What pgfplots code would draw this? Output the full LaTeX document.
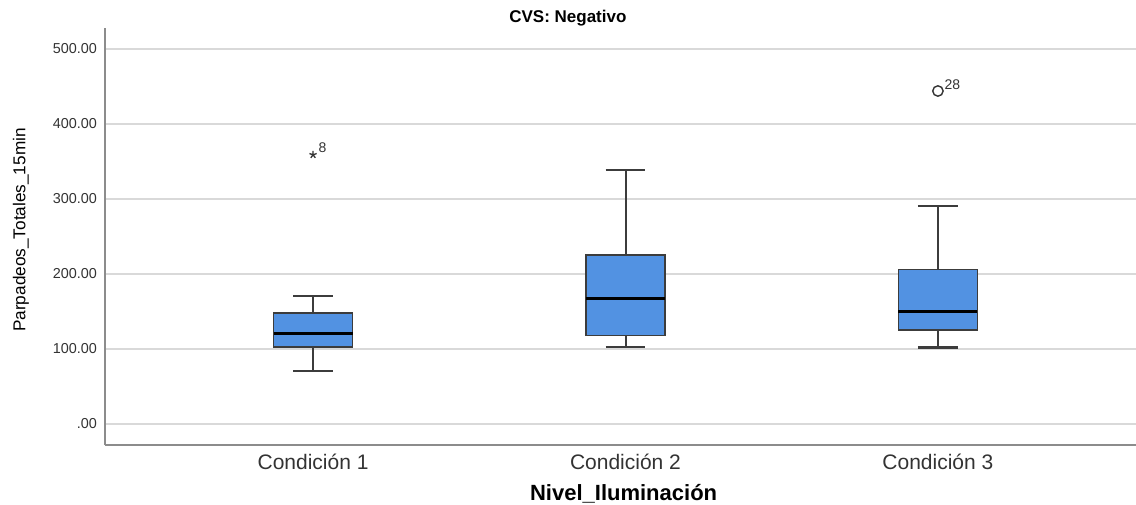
\documentclass[border=0pt]{standalone}
\usepackage{pgfplots}
\pgfplotsset{compat=1.18}
\usepackage{fontspec}
\setmainfont{Liberation Sans}
\definecolor{boxblue}{RGB}{82,146,226}
\definecolor{gridgray}{RGB}{217,217,217}
\definecolor{axgray}{RGB}{140,140,140}
\definecolor{txt}{RGB}{51,51,51}
\definecolor{boxline}{RGB}{60,60,60}
\begin{document}
\begin{tikzpicture}
\useasboundingbox (-52.5pt,-29.5pt) rectangle (515.5pt,222.5pt);
\begin{axis}[at={(0pt,0pt)}, anchor=south west, scale only axis,
  width=515.5pt, height=208.5pt,
  xmin=0.334, xmax=3.634, ymin=-28, ymax=528,
  axis x line*=bottom, axis y line*=left,
  axis line style={axgray, line width=1pt},
  ytick={0,100,...,500},
  yticklabels={.00,100.00,200.00,300.00,400.00,500.00},
  ymajorgrids, grid style={gridgray, line width=0.75pt},
  tick style={draw=none},
  xtick={1,2,3},
  xticklabels={Condición 1,Condición 2,Condición 3},
  /pgf/number format/assume math mode=true,
  yticklabel style={font=\fontsize{7.2}{8.5}\selectfont, text=txt, xshift=-0.5pt},
  xticklabel style={font=\fontsize{10.5}{12.5}\selectfont, text=txt, yshift=-1pt},
  xlabel={\textbf{Nivel\_Iluminación}},
  xlabel style={font=\fontsize{11}{13}\selectfont, text=black, at={(axis description cs:0.503,0)}, anchor=center, yshift=-24.5pt},
  ylabel={Parpadeos\_Totales\_15min},
  ylabel style={font=\fontsize{8.6}{10}\selectfont, text=black, at={(axis description cs:-0.0815,0.5156)}, anchor=center},
  title={\textbf{CVS: Negativo}},
  title style={font=\fontsize{8.5}{10}\selectfont, text=black, at={(axis description cs:0.449,1.0288)}, anchor=center, yshift=-7pt},
  clip=false,
  unbounded coords=jump,
]
% whiskers (stems and caps)
\addplot[draw=boxline, line width=1pt, mark=none] coordinates {
  (1,148) (1,171) (1,nan) (0.936,171) (1.064,171) (1,nan)
  (1,103) (1,71) (1,nan) (0.936,71) (1.064,71) (1,nan)
  (2,225) (2,338) (2,nan) (1.936,338) (2.064,338) (2,nan)
  (2,118) (2,103) (2,nan) (1.936,103) (2.064,103) (2,nan)
  (3,206) (3,290) (3,nan) (2.936,290) (3.064,290) (3,nan)
  (3,125) (3,102) (3,nan) (2.936,102) (3.064,102)
};
% boxes
\addplot[fill=boxblue, draw=boxline, line width=0.75pt, mark=none] coordinates {
  (0.8735,103) (1.1265,103) (1.1265,148) (0.8735,148)} -- cycle;
\addplot[fill=boxblue, draw=boxline, line width=0.75pt, mark=none] coordinates {
  (1.8735,118) (2.1265,118) (2.1265,225) (1.8735,225)} -- cycle;
\addplot[fill=boxblue, draw=boxline, line width=0.75pt, mark=none] coordinates {
  (2.8735,125) (3.1265,125) (3.1265,206) (2.8735,206)} -- cycle;
% medians
\addplot[draw=black, line width=1.4pt, mark=none] coordinates {
  (0.8735,121) (1.1265,121) (1,nan)
  (1.8735,167) (2.1265,167) (2,nan)
  (2.8735,150) (3.1265,150)
};
% outliers
\addplot[only marks, mark=star, mark size=1.9pt, mark options={line width=0.65pt}, color=txt,
  nodes near coords, point meta=explicit symbolic,
  every node near coord/.append style={anchor=south west, font=\fontsize{7}{8}\selectfont, text=txt, inner sep=0.5pt, xshift=2pt}]
  coordinates {(1,359) [8]};
\addplot[only marks, mark=o, mark size=2.6pt, mark options={line width=0.7pt}, color=txt,
  nodes near coords, point meta=explicit symbolic,
  every node near coord/.append style={anchor=south west, font=\fontsize{7}{8}\selectfont, text=txt, inner sep=0.5pt, xshift=2.5pt}]
  coordinates {(3,444) [28]};
\end{axis}
\end{tikzpicture}
\end{document}
